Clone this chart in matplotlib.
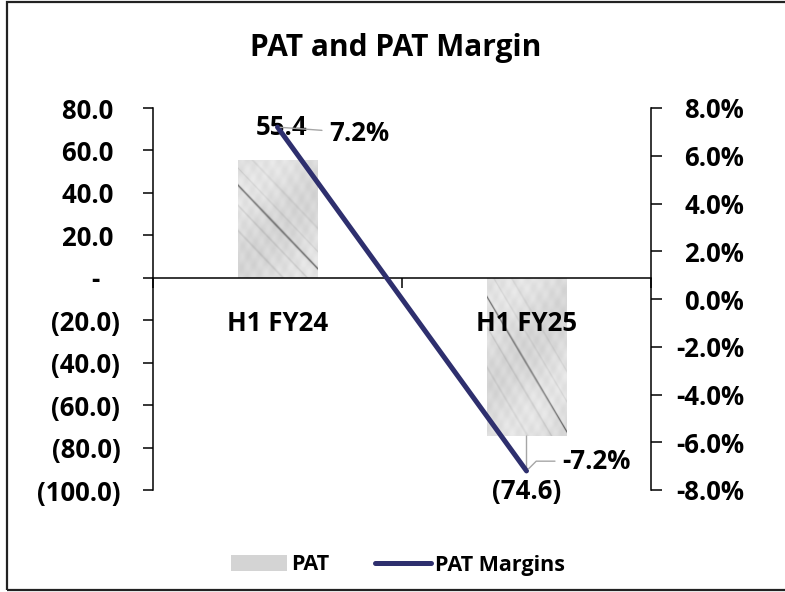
import numpy as np
import matplotlib
matplotlib.use("Agg")
import matplotlib.pyplot as plt
from matplotlib.patches import Rectangle, Patch
from matplotlib.lines import Line2D
from matplotlib.ticker import FixedLocator, FuncFormatter

plt.rcParams['font.family'] = ['Open Sans', 'DejaVu Sans']
plt.rcParams['font.weight'] = 'bold'

# ---- data ----
categories = ["H1 FY24", "H1 FY25"]
pat = [55.4, -74.6]
pat_margin = [0.072, -0.072]
left_ticks = [-100, -80, -60, -40, -20, 0, 20, 40, 60, 80]
right_ticks = [-0.08, -0.06, -0.04, -0.02, 0.0, 0.02, 0.04, 0.06, 0.08]
title = "PAT and PAT Margin"
series_names = ["PAT", "PAT Margins"]

LINE_COLOR = '#2e2f6e'
LEADER = '#a6a6a6'
TICK_FS = 18.5
W, H = 785, 592

fig = plt.figure(figsize=(W / 100, H / 100), dpi=100)
ax = fig.add_axes([153 / W, 1 - 490 / H, (651 - 153) / W, (490 - 108) / H])
ax2 = ax.twinx()

x = np.arange(len(categories))
bars = ax.bar(x, pat, width=0.32, color='#dadada', edgecolor='none', zorder=2)
ax.set_xlim(-0.5, len(categories) - 0.5)
ax.set_ylim(left_ticks[0], left_ticks[-1])
ax2.set_ylim(right_ticks[0], right_ticks[-1])


# marble-like texture (deterministic) clipped to each bar
def marble(h, w, slope, offsets):
    r, c = np.mgrid[0:h, 0:w].astype(float)
    img = (0.865 + 0.03 * np.sin((c + r) / 23.0) + 0.012 * np.sin((c - 0.6 * r) / 2.3)
           + 0.01 * np.sin(c / 1.7 + r / 3.1))
    d = c * slope - r
    for off, amp, wid in offsets:
        img -= amp * np.exp(-((d - off) / wid) ** 2)
    return np.clip(img, 0, 1)


fig.canvas.draw()
ppu_y = ax.transData.transform((0, 1))[1] - ax.transData.transform((0, 0))[1]
ppu_x = ax.transData.transform((1, 0))[0] - ax.transData.transform((0, 0))[0]
specs = [(1.05, [(-25, 0.45, 1.3), (-45, 0.09, 1.2), (-8, 0.07, 1.0), (15, 0.06, 1.5), (-70, 0.08, 1.5)]),
         (1.7, [(-20, 0.45, 1.5), (-50, 0.09, 1.5), (10, 0.07, 1.5), (-90, 0.07, 2.0), (40, 0.06, 1.5)])]
for b, (slope, offs) in zip(bars, specs):
    bx, by = b.get_x(), b.get_y()
    bw, bh = b.get_width(), b.get_height()
    wpx = max(int(abs(bw * ppu_x)), 2)
    hpx = max(int(abs(bh * ppu_y)), 2)
    tex = marble(hpx, wpx, slope, offs)
    y0, y1 = sorted([by, by + bh])
    im = ax.imshow(tex, extent=[bx, bx + bw, y0, y1], origin='upper', cmap='gray',
                   vmin=0, vmax=1, aspect='auto', zorder=2.1, interpolation='bilinear')
    im.set_clip_path(b)
ax.set_xlim(-0.5, len(categories) - 0.5)
ax.set_ylim(left_ticks[0], left_ticks[-1])

# line on secondary axis
ax2.plot(x, pat_margin, color=LINE_COLOR, lw=3.6, solid_capstyle='round', zorder=3)


# left axis formatting
def left_fmt(v, pos):
    if abs(v) < 1e-9:
        return "-   "
    if v < 0:
        return "({:.1f})".format(-v)
    return "{:.1f} ".format(v)


ax.yaxis.set_major_locator(FixedLocator(left_ticks))
ax.yaxis.set_major_formatter(FuncFormatter(left_fmt))
ax.tick_params(axis='y', direction='out', length=7.5, width=1.1, pad=16, labelsize=TICK_FS)

ax2.yaxis.set_major_locator(FixedLocator(right_ticks))
ax2.yaxis.set_major_formatter(FuncFormatter(lambda v, p: "{:.1f}%".format(v * 100 + 0.0)))
ax2.tick_params(axis='y', direction='out', length=8, width=1.1, pad=59, labelsize=TICK_FS)
for lbl in ax2.get_yticklabels():
    lbl.set_horizontalalignment('right')

# x axis at zero
for s in ['top', 'right']:
    ax.spines[s].set_visible(False)
ax.spines['bottom'].set_position(('data', 0))
ax.spines['bottom'].set_linewidth(1.1)
ax.spines['left'].set_linewidth(1.1)
ax.set_xticks(np.arange(len(categories) + 1) - 0.5)
ax.set_xticklabels([])
ax.tick_params(axis='x', which='major', direction='out', length=7, width=1.1)
ax.set_xticks(x, minor=True)
ax.set_xticklabels(categories, minor=True)
ax.tick_params(axis='x', which='minor', length=0, pad=23, labelsize=TICK_FS)
ax.xaxis.set_zorder(5)

for s in ['top', 'left', 'bottom']:
    ax2.spines[s].set_visible(False)
ax2.spines['right'].set_linewidth(1.1)
ax.set_facecolor('none')


# data labels
def pat_lbl(v):
    return "({:.1f})".format(-v) if v < 0 else "{:.1f}".format(v)


ax2.annotate(pat_lbl(pat[0]), xy=(x[0], pat_margin[0]), xytext=(3, 0), textcoords='offset points',
             ha='center', va='center', fontsize=TICK_FS, zorder=1)
ax.annotate(pat_lbl(pat[1]), xy=(x[1], pat[1]), xytext=(0, -40), textcoords='offset points',
            ha='center', va='center', fontsize=TICK_FS,
            arrowprops=dict(arrowstyle='-', color=LEADER, lw=1, shrinkA=2, shrinkB=0))
ax2.annotate("{:.1f}%".format(pat_margin[0] * 100), xy=(x[0], pat_margin[0]), xytext=(37, -4.3),
             textcoords='offset points', ha='left', va='center', fontsize=TICK_FS,
             arrowprops=dict(arrowstyle='-', color=LEADER, lw=1, shrinkA=3, shrinkB=2))
ax2.annotate("{:.1f}%".format(pat_margin[1] * 100), xy=(x[1], pat_margin[1]), xytext=(25.5, 7),
             textcoords='offset points', ha='left', va='center', fontsize=TICK_FS,
             arrowprops=dict(arrowstyle='-', color=LEADER, lw=1, shrinkA=3, shrinkB=2,
                             connectionstyle='angle,angleA=0,angleB=45,rad=0'))

# title
fig.text(396 / W, 1 - 48 / H, title, ha='center', va='center', fontsize=21.5, fontweight='bold')

# legend
handles = [Patch(facecolor='#d4d4d4', edgecolor='none'),
           Line2D([0], [0], color=LINE_COLOR, lw=3.6, solid_capstyle='round')]
fig.legend(handles, series_names, loc='center', bbox_to_anchor=(398 / W, 1 - 565 / H), ncol=2,
           frameon=False, fontsize=15.5, handlelength=2.6, handleheight=0.8, columnspacing=2.1,
           handletextpad=0.2)

# outer border
fig.add_artist(Rectangle((7 / W, 1 - 590 / H), 1.0, (590 - 2) / H, transform=fig.transFigure,
                         fill=False, ec='#222222', lw=1.6))

fig.savefig("out.png", dpi=100)
